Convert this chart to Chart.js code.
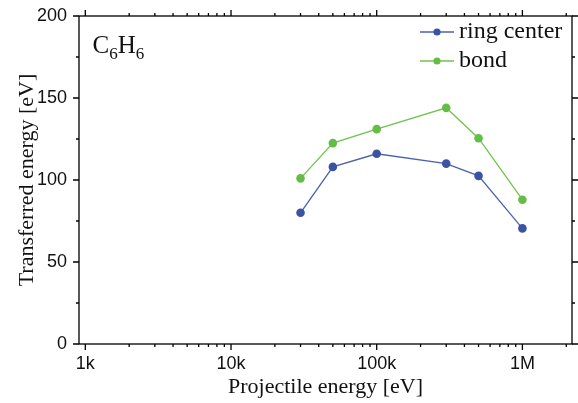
<!DOCTYPE html>
<html><head><meta charset="utf-8">
<script src="https://cdn.jsdelivr.net/npm/chart.js@4"></script>
<style>html,body{margin:0;padding:0;background:#fff;}</style>
</head><body>
<canvas id="c" width="578" height="403"></canvas>
<script>
// ---- data ----
const energies = [30000, 50000, 100000, 300000, 500000, 1000000];
const ringCenter = [80, 108, 116, 110, 102.5, 70.5];
const bond = [101, 122.5, 131, 144, 125.5, 88];
const seriesNames = ['ring center', 'bond'];
const xTickValues = [1000, 10000, 100000, 1000000];
const xTickLabels = ['1k', '10k', '100k', '1M'];
const xMinorTicks = [2000,3000,4000,5000,6000,7000,8000,9000,
  20000,30000,40000,50000,60000,70000,80000,90000,
  200000,300000,400000,500000,600000,700000,800000,900000,2000000];
const yTickValues = [0, 50, 100, 150, 200];
const yMinorTicks = [25, 75, 125, 175];
const moleculeLabel = ['C', '6', 'H', '6'];

const colors = {ring: '#3a53a3', ringLine: '#4a62ad', bond: '#66bd45', bondLine: '#72c24f'};
const serif = "'Liberation Serif', 'Times New Roman', serif";
const sans = "'Liberation Sans', Arial, sans-serif";

const decor = {
  id: 'decor',
  afterDraw(chart) {
    const {ctx, chartArea: a, scales: {x, y}} = chart;
    ctx.save();
    ctx.strokeStyle = '#000';
    ctx.lineWidth = 1.3;
    ctx.strokeRect(a.left, a.top, a.right - a.left, a.bottom - a.top);
    ctx.beginPath();
    const yt = (v, L) => { const p = y.getPixelForValue(v);
      ctx.moveTo(a.left - L, p); ctx.lineTo(a.left, p);
      ctx.moveTo(a.right, p); ctx.lineTo(a.right + L, p); };
    yTickValues.forEach(v => yt(v, 6));
    yMinorTicks.forEach(v => yt(v, 3));
    const xt = (v, L) => { const p = x.getPixelForValue(v);
      ctx.moveTo(p, a.bottom); ctx.lineTo(p, a.bottom + L);
      ctx.moveTo(p, a.top - L); ctx.lineTo(p, a.top); };
    xTickValues.forEach(v => xt(v, 6));
    xMinorTicks.forEach(v => xt(v, 3));
    ctx.stroke();

    // legend
    const ds = chart.data.datasets;
    const rows = [32, 61];
    ds.forEach((d, i) => {
      const yy = rows[i];
      ctx.strokeStyle = d.borderColor; ctx.lineWidth = 1.3;
      ctx.beginPath(); ctx.moveTo(420, yy); ctx.lineTo(454, yy); ctx.stroke();
      ctx.fillStyle = d.pointBackgroundColor;
      ctx.beginPath(); ctx.arc(437, yy, 3.6, 0, Math.PI * 2); ctx.fill();
      ctx.fillStyle = '#111';
      ctx.font = '24px ' + serif;
      ctx.textBaseline = 'alphabetic'; ctx.textAlign = 'left';
      ctx.fillText(d.label, 459, yy + 5.5);
    });

    // molecule label C6H6
    let cx = 92.5;
    ctx.fillStyle = '#111';
    ctx.textBaseline = 'alphabetic';
    moleculeLabel.forEach((t, i) => {
      const sub = i % 2 === 1;
      ctx.font = (sub ? '17px ' : '25px ') + serif;
      ctx.fillText(t, cx, sub ? 58.5 : 52.5);
      cx += ctx.measureText(t).width;
    });
    ctx.restore();
  }
};

new Chart(document.getElementById('c'), {
  type: 'line',
  data: {
    datasets: [
      {label: seriesNames[0], data: energies.map((e, i) => ({x: e, y: ringCenter[i]})),
       borderColor: colors.ringLine, backgroundColor: colors.ring, pointBackgroundColor: colors.ring,
       pointBorderColor: colors.ring, borderWidth: 1.3, pointRadius: 4.3, pointBorderWidth: 0, tension: 0},
      {label: seriesNames[1], data: energies.map((e, i) => ({x: e, y: bond[i]})),
       borderColor: colors.bondLine, backgroundColor: colors.bond, pointBackgroundColor: colors.bond,
       pointBorderColor: colors.bond, borderWidth: 1.3, pointRadius: 4.3, pointBorderWidth: 0, tension: 0}
    ]
  },
  options: {
    responsive: false, animation: false, devicePixelRatio: 1,
    layout: {padding: {top: 16, right: 6, left: 0, bottom: 0}},
    plugins: {legend: {display: false}, tooltip: {enabled: false}},
    scales: {
      x: {
        type: 'logarithmic', min: 905, max: 2190000,
        grid: {display: false, drawTicks: false, tickLength: 0}, border: {display: false},
        afterBuildTicks: s => { s.ticks = xTickValues.map(v => ({value: v})); },
        afterFit: s => { s.height = 59; s.paddingLeft = 0; s.paddingRight = 0; },
        ticks: {autoSkip: false, maxRotation: 0, padding: 9, color: '#111',
          font: {family: sans, size: 18},
          callback: v => { const i = xTickValues.indexOf(v); return i >= 0 ? xTickLabels[i] : ''; }},
        title: {display: true, text: 'Projectile energy [eV]', color: '#111',
          font: {family: serif, size: 22}, padding: {top: 0, bottom: 3}}
      },
      y: {
        min: 0, max: 200,
        grid: {display: false, drawTicks: false, tickLength: 0}, border: {display: false},
        afterBuildTicks: s => { s.ticks = yTickValues.map(v => ({value: v})); },
        afterFit: s => { s.width = 79; s.paddingTop = 0; s.paddingBottom = 0; },
        ticks: {padding: 12, color: '#111', font: {family: sans, size: 18}},
        title: {display: true, text: 'Transferred energy [eV]', color: '#111',
          font: {family: serif, size: 22}, padding: {top: 14, bottom: 0}}
      }
    }
  },
  plugins: [decor]
});
</script>
</body></html>
